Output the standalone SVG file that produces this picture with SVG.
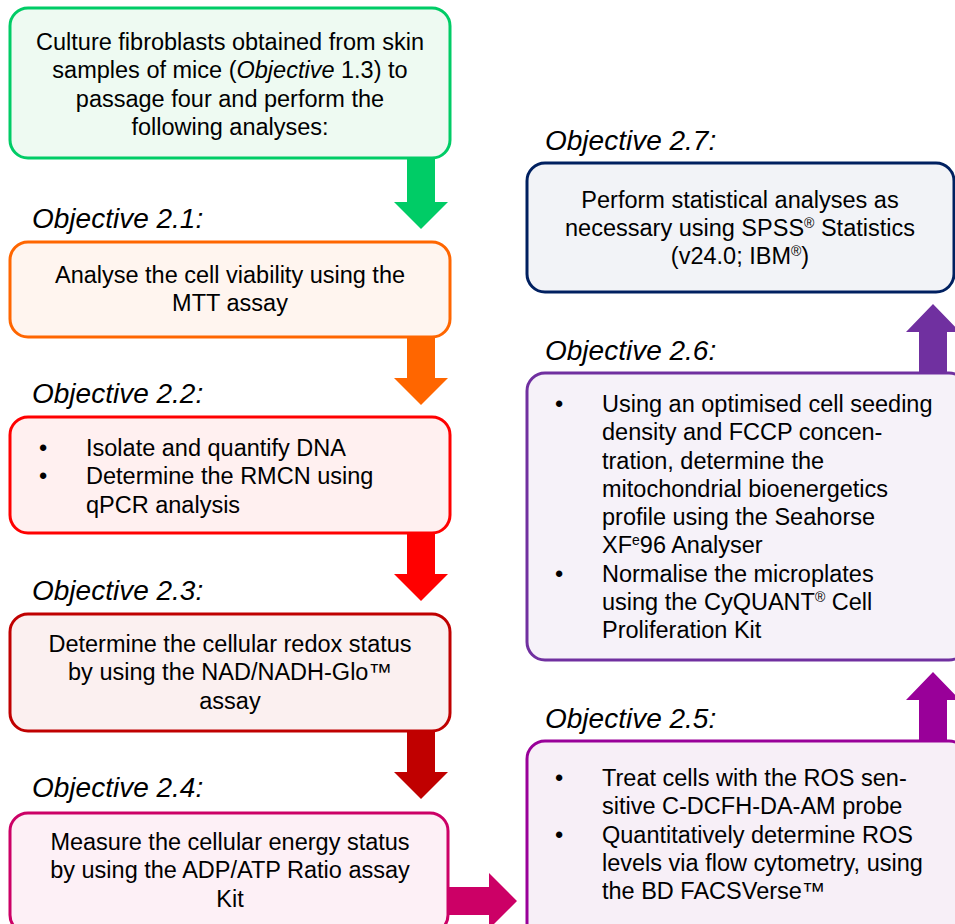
<svg xmlns="http://www.w3.org/2000/svg" width="955" height="924" viewBox="0 0 955 924">
<style>
text{font-family:"Liberation Sans",Arial,sans-serif;fill:#000}
.t{font-size:23.5px}
.c{text-anchor:middle}
.lab{font-size:28px;font-style:italic}
.box{stroke-width:3}
.sup{font-size:14px}
</style>
<rect width="955" height="924" fill="#fff"/>
<g id="connectors">
<polygon fill="#00cc66" points="407,157 435,157 435,202 448,202 421,229 394,202 407,202"/>
<polygon fill="#ff6600" points="407,337 435,337 435,378 448,378 421,405 394,378 407,378"/>
<polygon fill="#ff0000" points="407,533 435,533 435,574 448,574 421,601 394,574 407,574"/>
<polygon fill="#c00000" points="407,731 435,731 435,772 448,772 421,799 394,772 407,772"/>
<polygon fill="#cc0066" points="449,887 489,887 489,873 517,901 489,929 489,915 449,915"/>
<polygon fill="#990099" points="919,741 947,741 947,700 960,700 933,672 906,700 919,700"/>
<polygon fill="#7030a0" points="919,373 947,373 947,332 960,332 933,304 906,332 919,332"/>
</g>
<g id="n1">
<rect class="box" x="10" y="8" width="440" height="150" rx="18" fill="#eefaf2" stroke="#00cc66"/>
<text class="t c" x="230" y="50">Culture fibroblasts obtained from skin</text>
<text class="t c" x="230" y="78">samples of mice (<tspan font-style="italic">Objective</tspan> 1.3) to</text>
<text class="t c" x="230" y="107">passage four and perform the</text>
<text class="t c" x="230" y="135">following analyses:</text>
</g>
<g id="n21">
<text class="lab" x="32" y="228">Objective 2.1:</text>
<rect class="box" x="10" y="242" width="440" height="95" rx="18" fill="#fff5ef" stroke="#ff6600"/>
<text class="t c" x="230" y="283">Analyse the cell viability using the</text>
<text class="t c" x="230" y="311">MTT assay</text>
</g>
<g id="n22">
<text class="lab" x="32" y="403">Objective 2.2:</text>
<rect class="box" x="10" y="417" width="440" height="116" rx="18" fill="#fff0f0" stroke="#ff0000"/>
<text class="t" x="39" y="456">•</text>
<text class="t" x="86" y="456">Isolate and quantify DNA</text>
<text class="t" x="39" y="484">•</text>
<text class="t" x="86" y="484">Determine the RMCN using</text>
<text class="t" x="86" y="513">qPCR analysis</text>
</g>
<g id="n23">
<text class="lab" x="32" y="600">Objective 2.3:</text>
<rect class="box" x="10" y="614" width="440" height="117" rx="18" fill="#fbf0f0" stroke="#c00000"/>
<text class="t c" x="230" y="652">Determine the cellular redox status</text>
<text class="t c" x="230" y="680">by using the NAD/NADH-Glo™</text>
<text class="t c" x="230" y="709">assay</text>
</g>
<g id="n24">
<text class="lab" x="32" y="797">Objective 2.4:</text>
<rect class="box" x="10" y="813" width="438" height="120" rx="18" fill="#fdf0f6" stroke="#cc0066"/>
<text class="t c" x="230" y="850">Measure the cellular energy status</text>
<text class="t c" x="230" y="878">by using the ADP/ATP Ratio assay</text>
<text class="t c" x="230" y="907">Kit</text>
</g>
<g id="n25">
<text class="lab" x="545" y="728">Objective 2.5:</text>
<rect class="box" x="527" y="741" width="440" height="200" rx="18" fill="#f7eff7" stroke="#990099"/>
<text class="t" x="555" y="786">•</text>
<text class="t" x="602" y="786">Treat cells with the ROS sen-</text>
<text class="t" x="602" y="814">sitive C-DCFH-DA-AM probe</text>
<text class="t" x="555" y="843">•</text>
<text class="t" x="602" y="843">Quantitatively determine ROS</text>
<text class="t" x="602" y="871">levels via flow cytometry, using</text>
<text class="t" x="602" y="899">the BD FACSVerse™</text>
</g>
<g id="n26">
<text class="lab" x="545" y="360">Objective 2.6:</text>
<rect class="box" x="527" y="373" width="440" height="287" rx="18" fill="#f6f2f9" stroke="#7030a0"/>
<text class="t" x="555" y="412">•</text>
<text class="t" x="602" y="412">Using an optimised cell seeding</text>
<text class="t" x="602" y="440">density and FCCP concen-</text>
<text class="t" x="602" y="469">tration, determine the</text>
<text class="t" x="602" y="497">mitochondrial bioenergetics</text>
<text class="t" x="602" y="525">profile using the Seahorse</text>
<text class="t" x="602" y="553">XF<tspan class="sup" dy="-8">e</tspan><tspan dy="8">96 Analyser</tspan></text>
<text class="t" x="555" y="582">•</text>
<text class="t" x="602" y="582">Normalise the microplates</text>
<text class="t" x="602" y="610">using the CyQUANT<tspan class="sup" dy="-8">®</tspan><tspan dy="8"> Cell</tspan></text>
<text class="t" x="602" y="638">Proliferation Kit</text>
</g>
<g id="n27">
<text class="lab" x="545" y="150">Objective 2.7:</text>
<rect class="box" x="527" y="163" width="427" height="129" rx="18" fill="#f2f3f7" stroke="#002060"/>
<text class="t c" x="740" y="208">Perform statistical analyses as</text>
<text class="t c" x="740" y="236">necessary using SPSS<tspan class="sup" dy="-8">®</tspan><tspan dy="8"> Statistics</tspan></text>
<text class="t c" x="740" y="264">(v24.0; IBM<tspan class="sup" dy="-8">®</tspan><tspan dy="8">)</tspan></text>
</g>
</svg>
